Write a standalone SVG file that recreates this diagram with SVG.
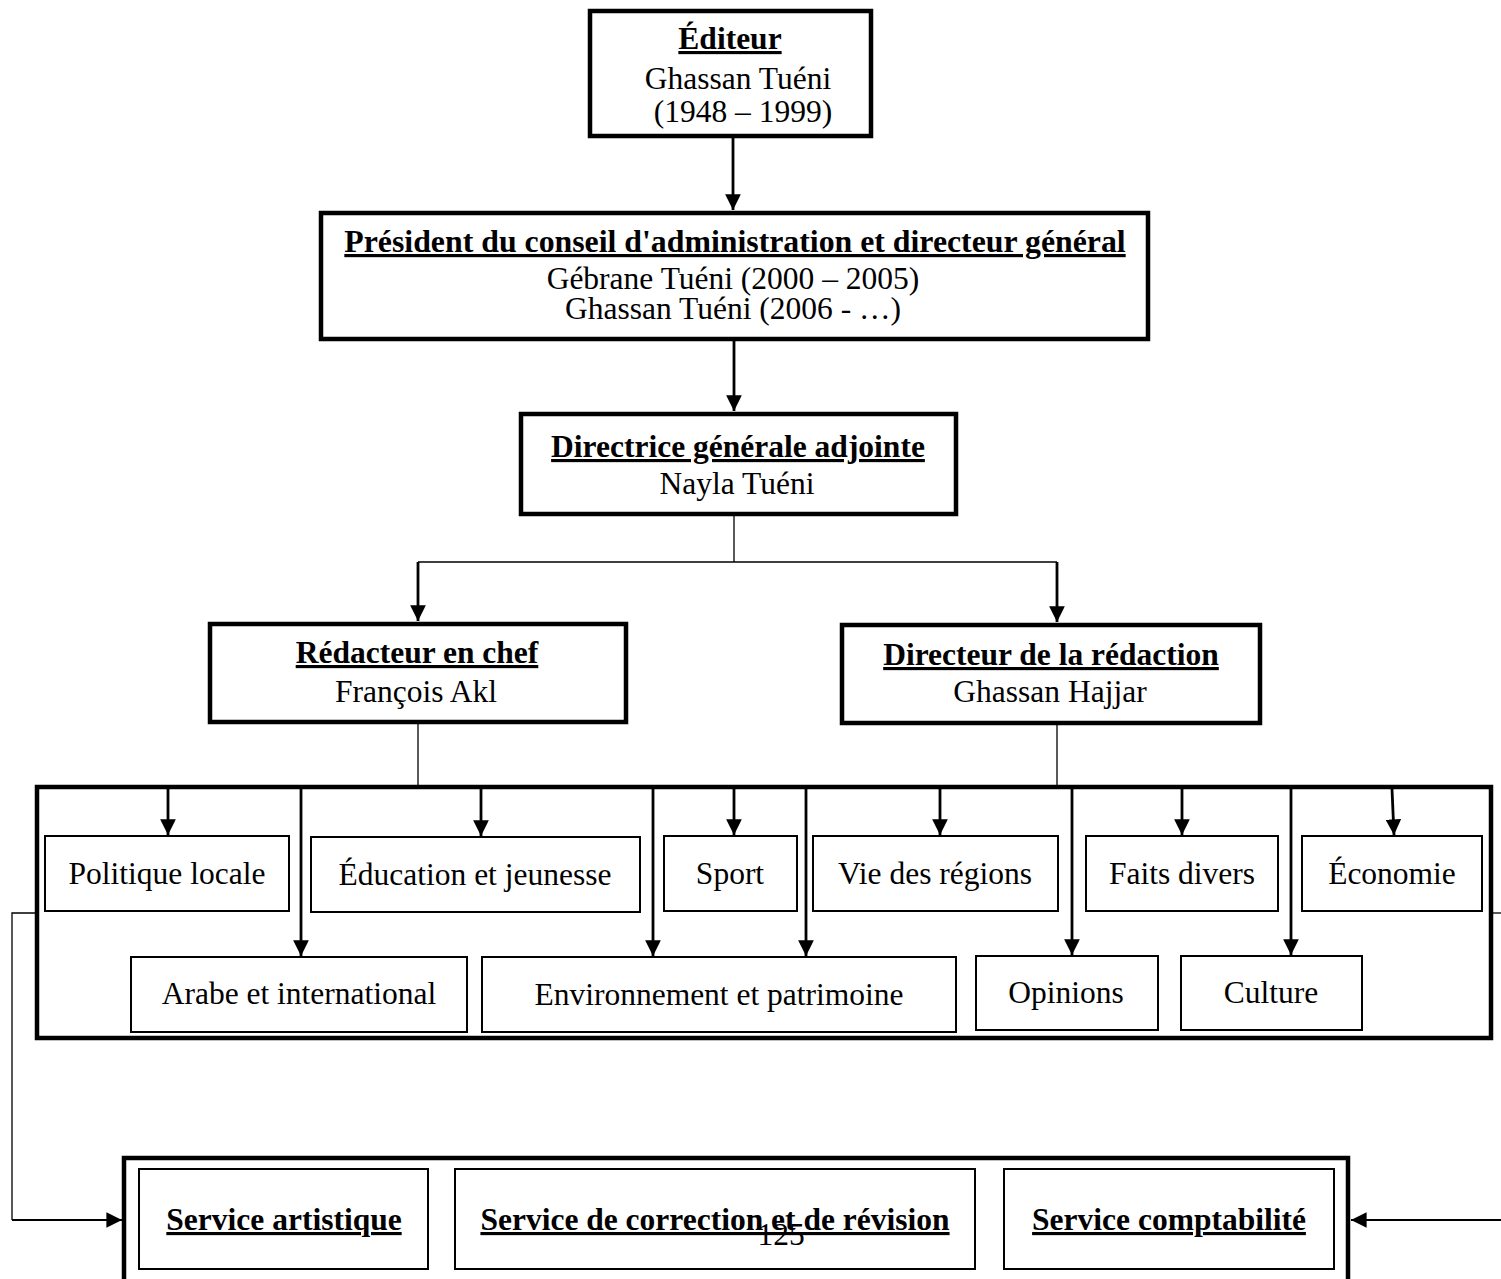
<svg xmlns="http://www.w3.org/2000/svg" width="1501" height="1279" viewBox="0 0 1501 1279">
<style>
text{font-family:"Liberation Serif","Times New Roman",serif;font-size:31.5px;fill:#000;text-anchor:middle}
.b{font-weight:bold;text-decoration:underline;text-decoration-thickness:3px}
.main{fill:#fff;stroke:#000;stroke-width:4.5}
.frame{fill:none;stroke:#000;stroke-width:4.5}
.sub{fill:#fff;stroke:#000;stroke-width:2}
.thin{fill:none;stroke:#000;stroke-width:1.3}
.arr{fill:none;stroke:#000;stroke-width:2.8;marker-end:url(#ah)}
.arrt{fill:none;stroke:#000;stroke-width:2;marker-end:url(#ah2)}
</style>
<defs>
<marker id="ah" viewBox="0 0 10 10" refX="10" refY="5" markerWidth="5.6" markerHeight="5.6" markerUnits="strokeWidth" orient="auto"><path d="M0,0 L10,5 L0,10 z" fill="#000"/></marker>
<marker id="ah2" viewBox="0 0 10 10" refX="10" refY="5" markerWidth="7.8" markerHeight="7.8" markerUnits="strokeWidth" orient="auto"><path d="M0,0 L10,5 L0,10 z" fill="#000"/></marker>
</defs>
<rect width="1501" height="1279" fill="#fff"/>

<g id="rubriques">
<rect class="frame" x="37" y="787" width="1454" height="251"/>
</g>
<g id="services">
<rect class="frame" x="124" y="1158" width="1224" height="140"/>
</g>

<g id="connectors">
<line class="arr" x1="733" y1="137" x2="733" y2="210"/>
<line class="arr" x1="734" y1="340" x2="734" y2="411"/>
<polyline class="thin" points="734,515 734,562"/>
<line class="thin" x1="418" y1="562" x2="1057" y2="562"/>
<line class="arr" x1="418" y1="562" x2="418" y2="621"/>
<line class="arr" x1="1057" y1="562" x2="1057" y2="622"/>
<line class="thin" x1="418" y1="723" x2="418" y2="787"/>
<line class="thin" x1="1057" y1="724" x2="1057" y2="787"/>
<line class="arr" x1="168" y1="789" x2="168" y2="835"/>
<line class="arr" x1="301" y1="789" x2="301" y2="956"/>
<line class="arr" x1="481" y1="789" x2="481" y2="836"/>
<line class="arr" x1="653" y1="789" x2="653" y2="956"/>
<line class="arr" x1="734" y1="789" x2="734" y2="835"/>
<line class="arr" x1="806" y1="789" x2="806" y2="956"/>
<line class="arr" x1="940" y1="789" x2="940" y2="835"/>
<line class="arr" x1="1072" y1="789" x2="1072" y2="955"/>
<line class="arr" x1="1182" y1="789" x2="1182" y2="835"/>
<line class="arr" x1="1291" y1="789" x2="1291" y2="955"/>
<line class="arr" x1="1392" y1="789" x2="1394" y2="835"/>
<polyline class="thin" points="35,913 12,913 12,1220"/>
<line class="arrt" x1="12" y1="1220" x2="122" y2="1220"/>
<line class="thin" x1="1493" y1="913" x2="1501" y2="913"/>
<line class="arrt" x1="1501" y1="1220" x2="1351" y2="1220"/>
</g>

<g id="editeur">
<rect class="main" x="590" y="11" width="281" height="125"/>
<text class="b" x="730" y="49">Éditeur</text>
<text x="738" y="89">Ghassan Tuéni</text>
<text x="743" y="122"> (1948 – 1999)</text>
</g>

<g id="president">
<rect class="main" x="321" y="213" width="827" height="126"/>
<text class="b" x="735" y="252" style="font-size:31.8px">Président du conseil d'administration et directeur général</text>
<text x="733" y="289">Gébrane Tuéni (2000 – 2005)</text>
<text x="733" y="319">Ghassan Tuéni  (2006 - …)</text>
</g>

<g id="directrice">
<rect class="main" x="521" y="414" width="435" height="100"/>
<text class="b" x="738" y="457">Directrice générale adjointe</text>
<text x="737" y="494">Nayla Tuéni</text>
</g>

<g id="redacteur">
<rect class="main" x="210" y="624" width="416" height="98"/>
<text class="b" x="417" y="663">Rédacteur en chef</text>
<text x="416" y="702">François Akl</text>
</g>

<g id="directeur">
<rect class="main" x="842" y="625" width="418" height="98"/>
<text class="b" x="1051" y="665">Directeur de la rédaction</text>
<text x="1050" y="702">Ghassan Hajjar</text>
</g>

<g id="politique"><rect class="sub" x="45" y="836" width="244" height="75"/><text x="167" y="884">Politique locale</text></g>
<g id="education"><rect class="sub" x="311" y="837" width="329" height="75"/><text x="475" y="885">Éducation et jeunesse</text></g>
<g id="sport"><rect class="sub" x="664" y="836" width="133" height="75"/><text x="730" y="884">Sport</text></g>
<g id="vie"><rect class="sub" x="813" y="836" width="245" height="75"/><text x="935" y="884">Vie des régions</text></g>
<g id="faits"><rect class="sub" x="1086" y="836" width="192" height="75"/><text x="1182" y="884">Faits divers</text></g>
<g id="economie"><rect class="sub" x="1302" y="836" width="180" height="75"/><text x="1392" y="884">Économie</text></g>
<g id="arabe"><rect class="sub" x="131" y="957" width="336" height="75"/><text x="299" y="1004">Arabe et international</text></g>
<g id="environnement"><rect class="sub" x="482" y="957" width="474" height="75"/><text x="719" y="1005">Environnement et patrimoine</text></g>
<g id="opinions"><rect class="sub" x="976" y="956" width="182" height="74"/><text x="1066" y="1003">Opinions</text></g>
<g id="culture"><rect class="sub" x="1181" y="956" width="181" height="74"/><text x="1271" y="1003">Culture</text></g>

<g id="artistique"><rect class="sub" x="139" y="1169" width="289" height="100"/><text class="b" x="284" y="1230">Service artistique</text></g>
<g id="correction"><rect class="sub" x="455" y="1169" width="520" height="100"/><text class="b" x="715" y="1230">Service de correction et de révision</text></g>
<g id="comptabilite"><rect class="sub" x="1004" y="1169" width="330" height="100"/><text class="b" x="1169" y="1230">Service comptabilité</text></g>
<text x="781" y="1245">125</text>
</svg>
